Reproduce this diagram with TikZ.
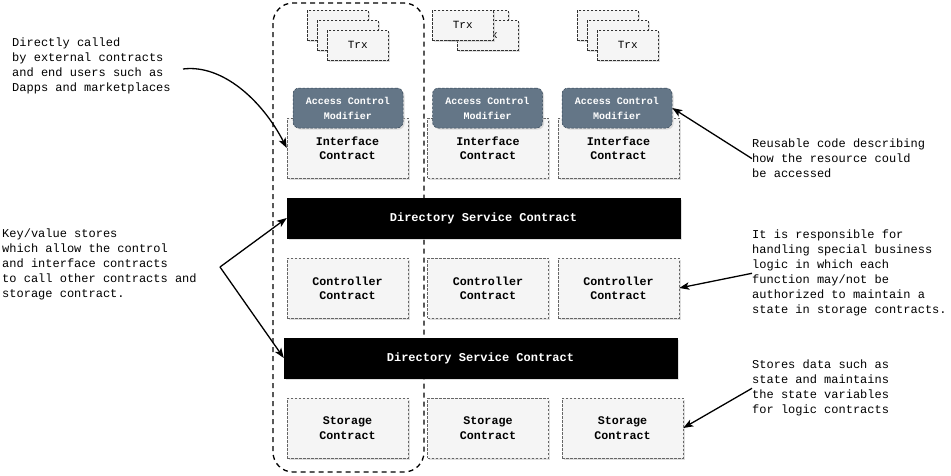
\documentclass[tikz,border=0pt]{standalone}
\usepackage{fontspec}
\setmonofont{Liberation Mono}
\usetikzlibrary{positioning,arrows,arrows.meta,shadows}
\definecolor{boxfill}{HTML}{F5F5F5}
\definecolor{boxline}{HTML}{666666}
\definecolor{modfill}{HTML}{647687}
\definecolor{modline}{HTML}{314354}

\begin{document}
\begin{tikzpicture}[x=1pt,y=-1pt,>={Stealth[length=10pt,width=7.5pt,inset=2.5pt]},
  shade box/.style={drop shadow={shadow xshift=1.5pt,shadow yshift=-1.5pt,fill=black!25}},
  contract/.style={draw=boxline,fill=boxfill,dash pattern=on 2.5pt off 1.5pt,line width=0.5pt,
    minimum width=121pt,minimum height=60pt,inner sep=0pt,align=center,shade box,
    font=\ttfamily\bfseries\fontsize{11.7}{14.3}\selectfont},
  modifier/.style={draw=modline,fill=modfill,text=white,rounded corners=6pt,
    dash pattern=on 2.5pt off 1.5pt,line width=0.5pt,minimum width=110pt,minimum height=40pt,
    inner sep=0pt,align=center,shade box,font=\ttfamily\bfseries\fontsize{10}{15}\selectfont},
  directory/.style={draw=black,fill=black,text=white,minimum width=393pt,minimum height=40pt,
    inner sep=0pt,shade box,font=\ttfamily\bfseries\fontsize{12}{14}\selectfont},
  trx/.style={draw=black!80,fill=boxfill,dash pattern=on 2.5pt off 1.5pt,line width=0.5pt,
    minimum width=61pt,minimum height=30pt,inner sep=0pt,anchor=north west,shade box,
    font=\ttfamily\fontsize{11}{13}\selectfont},
  note/.style={anchor=north west,align=left,inner sep=0pt,font=\ttfamily\fontsize{12}{15}\selectfont},
  group/.style={draw=black,line width=1.3pt,dash pattern=on 5pt off 4pt,rounded corners=20pt},
  pointer/.style={->,line width=1.3pt}]
   \useasboundingbox (0,0) rectangle (951,475);

   % first column group
   \draw[group] (273,3) rectangle (424,472);

   % transactions
   \node[trx] (trx1a) at (307,10) {};
   \node[trx] (trx1b) at (317,20) {};
   \node[trx] (trx1c) at (327,30) {Trx};
   \node[trx] (trx2b) at (447,10) {};
   \node[trx] (trx2c) at (457,20) {Trx};
   \node[trx] (trx2a) at (432,10) {Trx};
   \node[trx] (trx3a) at (577,10) {};
   \node[trx] (trx3b) at (587,20) {};
   \node[trx] (trx3c) at (597,30) {Trx};

   % interface layer
   \node[contract] (int1) at (347.5,148) {Interface\\Contract};
   \node[contract] (int2) [right=19pt of int1] {Interface\\Contract};
   \node[contract] (int3) [right=9pt of int2] {Interface\\Contract};
   \node[modifier] (mod1) at (348,108) {Access Control\\Modifier};
   \node[modifier] (mod2) at (487.5,108) {Access Control\\Modifier};
   \node[modifier] (mod3) at (617,108) {Access Control\\Modifier};

   % controller layer
   \node[directory] (dir1) at (483.5,218) {Directory Service Contract};
   \node[contract] (ctl1) at (347.5,288) {Controller\\Contract};
   \node[contract] (ctl2) [right=19pt of ctl1] {Controller\\Contract};
   \node[contract] (ctl3) [right=9pt of ctl2] {Controller\\Contract};

   % storage layer
   \node[directory] (dir2) at (480.5,358) {Directory Service Contract};
   \node[contract] (sto1) at (347.5,428) {Storage\\Contract};
   \node[contract] (sto2) [right=19pt of sto1] {Storage\\Contract};
   \node[contract] (sto3) [right=13pt of sto2] {Storage\\Contract};

   % notes
   \node[note] (noteCalled) at (12,38) {Directly called\\by external contracts\\and end users such as\\Dapps and marketplaces};
   \node[note] (noteKeyValue) at (2,229) {Key/value stores\\which allow the control\\and interface contracts\\to call other contracts and\\storage contract.};
   \node[note] (noteReusable) at (752,139) {Reusable code describing\\how the resource could\\be accessed};
   \node[note] (noteLogic) at (752,230) {It is responsible for\\handling special business\\logic in which each\\function may/not be\\authorized to maintain a\\state in storage contracts.};
   \node[note] (noteStores) at (752,360) {Stores data such as\\state and maintains\\the state variables\\for logic contracts};

   \coordinate (calledFrom) at (183,69);
   \coordinate (keyFrom) at (220,267);

   \draw[pointer] (calledFrom) .. controls (222,64) and (262,100) .. (int1.west);
   \draw[pointer] (keyFrom) -- (dir1.west);
   \draw[pointer] (keyFrom) -- (dir2.west);
   \draw[pointer] (noteReusable.west) -- (mod3.east);
   \draw[pointer] (noteLogic.west) -- (ctl3.east);
   \draw[pointer] (noteStores.west) -- (sto3.east);
\end{tikzpicture}
\end{document}
